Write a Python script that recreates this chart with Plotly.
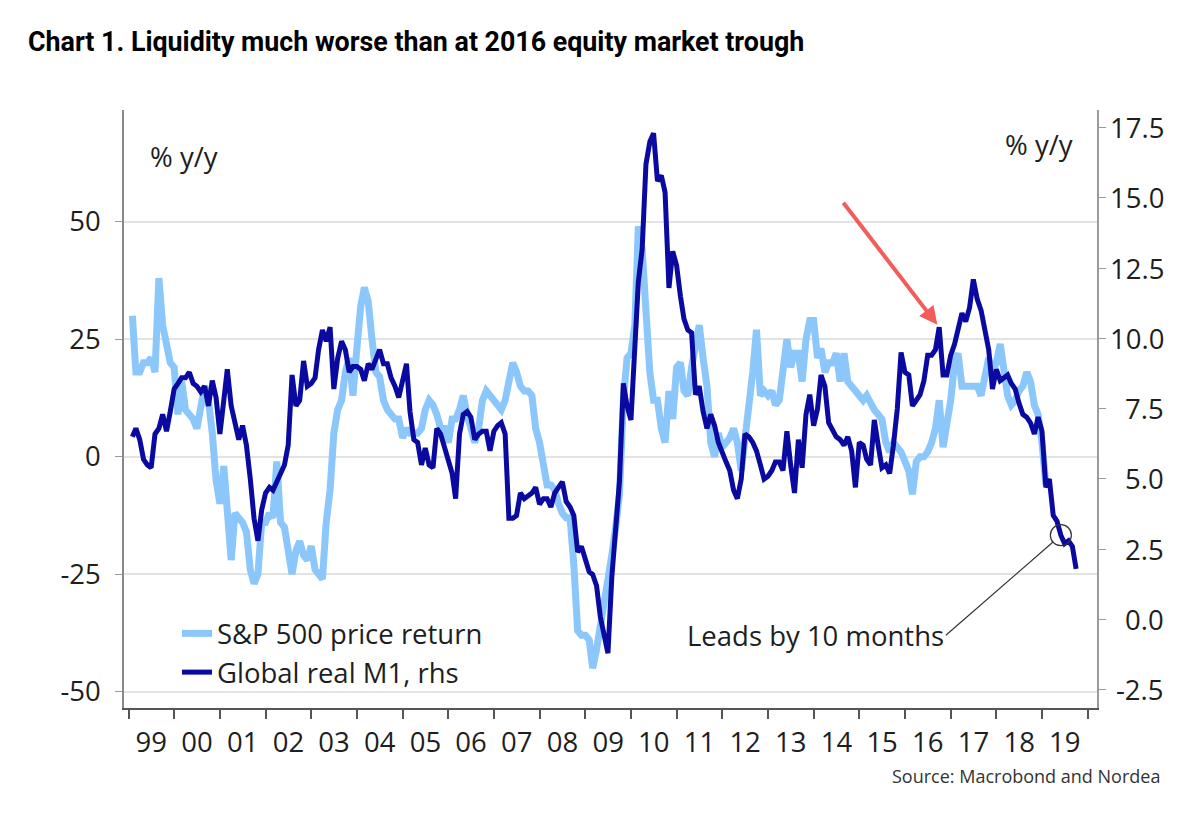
import pandas as pd
import plotly.graph_objects as go

# ---------------- data ----------------
# S&P 500 price return, % y/y (left axis), monthly from Feb 1999
sp500 = [
    30, 18, 18, 20, 20, 21, 18, 38, 28, 24, 20,
    19, 9, 16, 10, 9, 8, 6, 11, 15, 12, 5, -5,
    -10, -2, -11, -22, -12, -13, -14, -16, -24, -27, -25, -14,
    -14, -12, -13, -1, -14, -15, -19, -25, -20, -18, -21, -22,
    -19, -24, -25, -26, -14, -7, 5, 10, 12, 18, 21, 13,
    23, 32, 36, 33, 25, 18, 17, 12, 10, 9, 8, 8,
    4, 6, 5, 5, 5, 6, 10, 12, 11, 9, 6, 6,
    3, 8, 8, 10, 13, 9, 6, 3, 6, 12, 14, 13,
    12, 11, 10, 12, 17, 20, 18, 15, 14, 14, 13, 6,
    3, -3, -6, -6, -7, -10, -12, -13, -13, -23, -37, -38,
    -38, -39, -45, -41, -36, -33, -26, -21, -15, -8, 12, 21,
    22, 28, 49, 44, 31, 18, 12, 12, 6, 3, 14, 8,
    19, 20, 14, 13, 19, 23, 28, 21, 15, 3, 0, 5,
    2, 3, 4, 6, 3, -3, 4, 9, 18, 27, 13, 14,
    13, 14, 11, 12, 18, 25, 19, 22, 22, 16, 25, 29,
    29, 21, 23, 18, 20, 20, 22, 16, 22, 16, 15, 14,
    13, 12, 13, 11, 10, 9, 8, 3, 1, 3, 2, 1,
    -1, -3, -8, -1, 0, 0, 1, 3, 6, 12, 2, 6,
    12, 20, 22, 15, 15, 15, 15, 15, 13, 17, 21, 18,
    20, 24, 18, 13, 11, 12, 14, 15, 18, 16, 11, 9,
    3, -6,
]

# Global real M1, % y/y (right axis), monthly from Feb 1999 (shifted 10m forward)
m1 = [
    6.5, 6.8, 6.4, 5.7, 5.5, 5.4, 6.6, 6.8, 7.3, 6.7, 7.4,
    8.2, 8.4, 8.6, 8.6, 8.8, 8.4, 8.3, 8.1, 8.3, 7.6, 8.5, 7.9,
    6.6, 7.8, 8.9, 7.6, 7.0, 6.4, 6.9, 6.2, 5.0, 3.6, 2.8, 3.9,
    4.5, 4.7, 4.6, 4.9, 5.1, 5.5, 6.2, 8.7, 7.6, 7.8, 9.2, 8.3,
    8.4, 8.6, 9.6, 10.3, 9.9, 10.4, 8.2, 9.3, 9.9, 9.6, 8.8, 9.0,
    9.0, 8.9, 8.5, 9.1, 8.9, 9.3, 9.6, 9.1, 9.1, 8.6, 8.3, 7.9,
    8.5, 9.1, 7.4, 6.4, 6.3, 5.5, 6.1, 5.5, 5.4, 6.8, 6.6, 6.1,
    5.6, 5.2, 4.3, 6.6, 7.3, 7.4, 7.2, 6.4, 6.6, 6.7, 6.7, 6.0,
    6.7, 6.9, 7.0, 6.6, 3.6, 3.6, 3.7, 4.5, 4.3, 4.4, 4.5, 4.7,
    4.1, 4.3, 4.3, 4.0, 4.5, 4.7, 4.9, 4.2, 4.0, 3.7, 2.4, 2.6,
    2.2, 1.7, 1.6, 1.2, 0.1, -0.6, -1.2, 1.5, 3.2, 4.9, 8.4, 7.6,
    7.1, 9.6, 12.0, 13.2, 16.2, 17.0, 17.3, 15.6, 15.8, 15.2, 11.8, 13.1,
    12.6, 11.5, 10.7, 10.3, 10.2, 8.0, 8.3, 7.4, 6.8, 7.3, 6.9, 6.3,
    6.0, 5.6, 5.3, 4.6, 4.3, 5.0, 6.6, 6.5, 6.3, 6.0, 5.5, 5.0,
    5.1, 5.3, 5.6, 5.6, 5.3, 6.7, 5.5, 4.5, 6.4, 5.4, 7.3, 8.0,
    6.9, 7.5, 8.7, 8.3, 7.0, 6.7, 6.5, 6.4, 6.2, 6.5, 6.0, 4.7,
    6.3, 6.2, 5.7, 5.5, 7.1, 6.2, 5.4, 5.5, 5.2, 6.2, 7.5, 9.5,
    8.8, 8.7, 7.6, 7.8, 8.0, 8.5, 9.4, 9.4, 9.6, 10.4, 8.7, 8.7,
    9.4, 9.8, 10.3, 10.9, 10.6, 11.1, 12.1, 11.4, 11.0, 10.4, 9.6, 8.2,
    8.9, 8.5, 8.6, 8.7, 8.4, 8.2, 7.7, 7.3, 7.2, 7.0, 6.6, 7.2,
    6.7, 4.7, 5.0, 3.7, 3.5, 3.0, 2.7, 2.8, 2.6, 1.8,
]

left_ticks = [-50, -25, 0, 25, 50]
left_ticktext = ["-50", "-25", "0", "25", "50"]
right_ticks = [-2.5, 0.0, 2.5, 5.0, 7.5, 10.0, 12.5, 15.0, 17.5]

sp_dates = pd.date_range("1999-02-01", periods=len(sp500), freq="MS")
m1_dates = pd.date_range("1999-02-01", periods=len(m1), freq="MS")

# ---------------- styling ----------------
LIGHT = "#8CC7FB"
DARK = "#0A0AA0"
RED = "#F45B5B"
TXT = "#1e1e1e"
FONT = "Open Sans"
FS = 27.5

W, H = 1200, 814
ML, MR, MT, MB = 124, 103, 110, 106
PW, PH = W - ML - MR, H - MT - MB


def px(xp):
    return (xp - ML) / PW


def py(yp):
    return (H - MB - yp) / PH


fig = go.Figure()
fig.add_trace(go.Scatter(
    x=sp_dates, y=sp500, name="S&P 500 price return", mode="lines",
    line=dict(color=LIGHT, width=7), legendgroup="a", yaxis="y",
))
fig.add_trace(go.Scatter(
    x=m1_dates, y=m1, name="Global real M1, rhs", mode="lines",
    line=dict(color=DARK, width=5), legendgroup="b", yaxis="y2",
))
# circle marking the latest reading
fig.add_trace(go.Scatter(
    x=[m1_dates[244]], y=[m1[244]], mode="markers", yaxis="y2",
    marker=dict(symbol="circle-open", size=21, color="#333",
                line=dict(width=1.2, color="#333")),
    showlegend=False, hoverinfo="skip",
))

annotations = [
    dict(text="% y/y", xref="paper", yref="paper", x=px(184), y=py(157),
         xanchor="center", yanchor="middle",
         showarrow=False, font=dict(size=FS, color=TXT, family=FONT)),
    dict(text="% y/y", xref="paper", yref="paper", x=px(1039), y=py(145),
         xanchor="center", yanchor="middle",
         showarrow=False, font=dict(size=FS, color=TXT, family=FONT)),
    dict(text="Leads by 10 months", xref="x", yref="y2",
         x=m1_dates[244], y=m1[244], ax=-115, ay=100,
         xanchor="right", yanchor="middle", showarrow=True, arrowhead=0,
         arrowwidth=1.2, arrowcolor="#333", standoff=10,
         font=dict(size=FS, color=TXT, family=FONT)),
    dict(text="", xref="x", yref="y2", x=m1_dates[212], y=m1[212],
         ax=-97, ay=-126, showarrow=True, arrowhead=2, arrowsize=0.9,
         arrowwidth=4, arrowcolor=RED, standoff=3),
    dict(text="Source: Macrobond and Nordea", xref="paper", yref="paper",
         x=px(1162), y=py(776), xanchor="right", yanchor="middle",
         showarrow=False, font=dict(size=18, color="#333", family=FONT)),
]
for v in right_ticks:
    annotations.append(dict(
        text=f"{v:.1f}", xref="paper", yref="y2", x=px(1166), y=v,
        xanchor="right", yanchor="middle", showarrow=False,
        font=dict(size=FS, color=TXT, family=FONT)))

fig.update_layout(
    width=W, height=H, autosize=False,
    margin=dict(l=ML, r=MR, t=MT, b=MB),
    paper_bgcolor="white", plot_bgcolor="white",
    font=dict(family=FONT, size=FS, color=TXT),
    title=dict(
        text="<b>Chart 1. Liquidity much worse than at 2016 equity market trough</b>",
        x=28 / W, xref="container", xanchor="left",
        y=1 - 42 / H, yref="container", yanchor="middle",
        font=dict(family="Roboto", size=26.8, color="#000"),
    ),
    xaxis=dict(
        type="date", range=["1998-11-26", "2020-03-16"],
        tick0="1999-01-01", dtick="M12", tickformat="%y",
        ticklabelmode="period", ticks="outside", ticklen=9, tickwidth=1.5,
        tickcolor="#555", showline=True, linecolor="#555", linewidth=1.5,
        showgrid=False, zeroline=False,
        tickfont=dict(size=FS, color=TXT, family=FONT),
    ),
    yaxis=dict(
        range=[-53.47, 73.77], tickvals=left_ticks, ticktext=left_ticktext,
        ticks="outside", ticklen=7, tickcolor="#999", ticklabelstandoff=9,
        showline=True, linecolor="#888", linewidth=1.5,
        showgrid=True, gridcolor="#e3e3e3", gridwidth=2, zeroline=False,
        tickfont=dict(size=FS, color=TXT, family=FONT),
    ),
    yaxis2=dict(
        range=[-3.15, 18.13], overlaying="y", side="right",
        tickvals=right_ticks, showticklabels=False,
        ticks="outside", ticklen=7, tickcolor="#999",
        showline=True, linecolor="#999", linewidth=1.5,
        showgrid=False, zeroline=False,
    ),
    legend=dict(
        x=px(177), y=py(609), xanchor="left", yanchor="top",
        font=dict(size=FS, color=TXT, family=FONT),
        bgcolor="rgba(0,0,0,0)", tracegroupgap=0, itemwidth=30,
    ),
    annotations=annotations,
    showlegend=True,
)

fig.write_html("out.html")
